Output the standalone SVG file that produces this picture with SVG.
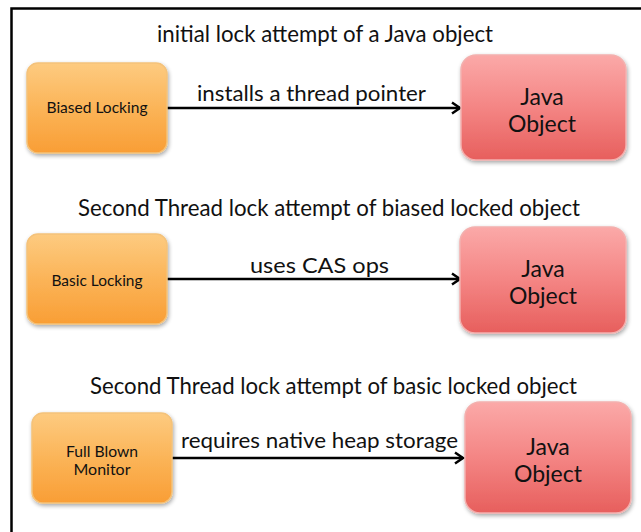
<svg xmlns="http://www.w3.org/2000/svg" width="641" height="532" viewBox="0 0 641 532">
<style>
text{font-family:Lato,"Open Sans","Liberation Sans",sans-serif;fill:#111}
.title{font-size:23px}
.lbl{font-size:22px}
.obj{font-size:23px;text-anchor:middle}
.small{font-size:16px;text-anchor:middle}
.orange{fill:url(#og);stroke:#f4c27a;stroke-width:1.5;filter:url(#sh)}
.red{fill:url(#rg);stroke:#f3b0ae;stroke-width:1.5;filter:url(#sh)}
.conn{stroke:#000;stroke-width:2.5;fill:none;marker-end:url(#ah)}
</style>
<defs>
<linearGradient id="og" x1="0" y1="0" x2="0" y2="1">
<stop offset="0" stop-color="#fdcb80"/>
<stop offset="0.5" stop-color="#fbb458"/>
<stop offset="1" stop-color="#f99e35"/>
</linearGradient>
<linearGradient id="rg" x1="0" y1="0" x2="0" y2="1">
<stop offset="0" stop-color="#fba9a8"/>
<stop offset="0.5" stop-color="#f48584"/>
<stop offset="1" stop-color="#e75f5d"/>
</linearGradient>
<filter id="sh" x="-10%" y="-10%" width="125%" height="130%">
<feGaussianBlur in="SourceAlpha" stdDeviation="2"/>
<feOffset dx="1" dy="2" result="b"/>
<feComponentTransfer><feFuncA type="linear" slope="0.35"/></feComponentTransfer>
<feMerge><feMergeNode/><feMergeNode in="SourceGraphic"/></feMerge>
</filter>
<marker id="ah" markerWidth="14" markerHeight="14" refX="11" refY="7" orient="auto" markerUnits="userSpaceOnUse">
<path d="M3,1.5 L11,7 L3,12.5" fill="none" stroke="#000" stroke-width="2.5"/>
</marker>
</defs>
<rect width="641" height="532" fill="#fff"/>
<path d="M11.5,532 V8.5 H641" fill="none" stroke="#000" stroke-width="2.5"/>

<g id="titles">
<text class="title" x="157" y="42" textLength="336" lengthAdjust="spacingAndGlyphs">initial lock attempt of a Java object</text>
<text class="title" x="78" y="216" textLength="502" lengthAdjust="spacingAndGlyphs">Second Thread lock attempt of biased locked object</text>
<text class="title" x="90" y="394" textLength="487" lengthAdjust="spacingAndGlyphs">Second Thread lock attempt of basic locked object</text>
</g>

<g id="connectors">
<path class="conn" d="M167,108 H460"/>
<text class="lbl" x="197" y="101" textLength="229" lengthAdjust="spacingAndGlyphs">installs a thread pointer</text>
<path class="conn" d="M167,279 H460"/>
<text class="lbl" x="250" y="273" textLength="139" lengthAdjust="spacingAndGlyphs">uses CAS ops</text>
<path class="conn" d="M172,458 H463"/>
<text class="lbl" x="181" y="448" textLength="277" lengthAdjust="spacingAndGlyphs">requires native heap storage</text>
</g>

<g id="biased-locking">
<rect class="orange" x="27" y="63" width="140" height="90" rx="11"/>
<text class="small" x="97" y="113" textLength="101" lengthAdjust="spacingAndGlyphs">Biased Locking</text>
</g>
<g id="java-object-1">
<rect class="red" x="461" y="55" width="165" height="105" rx="15"/>
<text class="obj" x="542" y="105">Java</text>
<text class="obj" x="542" y="132">Object</text>
</g>

<g id="basic-locking">
<rect class="orange" x="27" y="234" width="140" height="90" rx="11"/>
<text class="small" x="97" y="286" textLength="91" lengthAdjust="spacingAndGlyphs">Basic Locking</text>
</g>
<g id="java-object-2">
<rect class="red" x="460" y="227" width="166" height="106" rx="15"/>
<text class="obj" x="543" y="277">Java</text>
<text class="obj" x="543" y="304">Object</text>
</g>

<g id="full-blown-monitor">
<rect class="orange" x="32" y="413" width="140" height="90" rx="11"/>
<text class="small" x="102" y="457" textLength="72" lengthAdjust="spacingAndGlyphs">Full Blown</text>
<text class="small" x="102" y="475">Monitor</text>
</g>
<g id="java-object-3">
<rect class="red" x="465" y="402" width="166" height="111" rx="15"/>
<text class="obj" x="548" y="455">Java</text>
<text class="obj" x="548" y="482">Object</text>
</g>
</svg>
